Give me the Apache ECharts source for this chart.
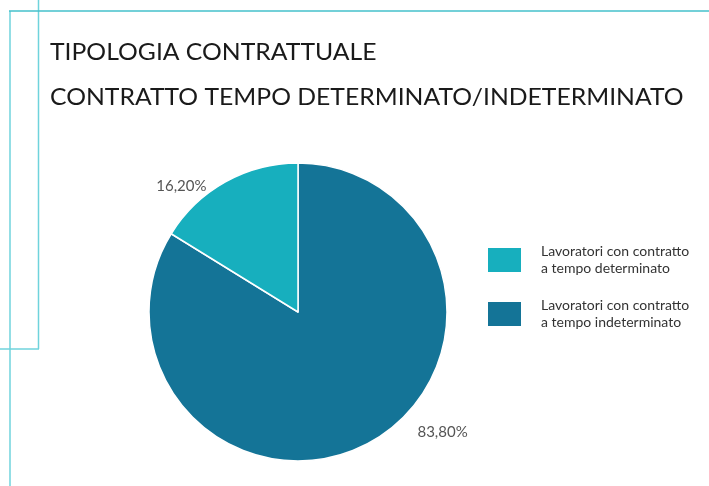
<!DOCTYPE html>
<html>
<head>
<meta charset="utf-8">
<script src="https://cdn.jsdelivr.net/npm/echarts@6/dist/echarts.min.js"></script>
<style>
  html, body { margin: 0; padding: 0; background: #fff; }
  #chart { width: 709px; height: 486px; }
</style>
</head>
<body>
<div id="chart"></div>
<script>
// dati
const categories = [
  'Lavoratori con contratto\na tempo indeterminato',
  'Lavoratori con contratto\na tempo determinato'
]
const values = [83.8, 16.2]
const colors = ['#147497', '#17afbe']
const legendOrder = [categories[1], categories[0]]
const titleLines = ['TIPOLOGIA CONTRATTUALE', 'CONTRATTO TEMPO DETERMINATO/INDETERMINATO']

const fmt = (v) => v.toFixed(2).replace('.', ',') + '%'

const chart = echarts.init(document.getElementById('chart'))

const lineColor = '#6fd3dc'

// spostamento etichette (come nel grafico originale)
const labelShift = [
  { dx: 37, dy: -19 },
  { dx: -9, dy: 13 }
]

// titolo su due righe, un po' allargato per somigliare al font originale
const titleText = titleLines.map((t, i) => ({
  type: 'text',
  x: 50,
  y: 53 + i * 45,
  scaleX: 1.075,
  style: {
    text: t,
    fontFamily: 'Lato',
    fontSize: 23,
    fill: '#1a1a1a',
    verticalAlign: 'middle'
  }
}))

const option = {
  backgroundColor: '#fff',
  legend: {
    orient: 'vertical',
    left: 481,
    top: 238,
    data: legendOrder,
    icon: 'rect',
    itemWidth: 35,
    itemHeight: 26,
    itemGap: 20,
    selectedMode: false,
    textStyle: {
      fontFamily: 'Lato',
      fontSize: 14,
      lineHeight: 17,
      color: '#333',
      padding: [0, 0, 0, 14]
    }
  },
  graphic: [
    { type: 'line', shape: { x1: 38.5, y1: 0, x2: 38.5, y2: 349 }, style: { stroke: lineColor, lineWidth: 1.5 } },
    { type: 'line', shape: { x1: 0, y1: 349, x2: 39, y2: 349 }, style: { stroke: lineColor, lineWidth: 1.5 } },
    { type: 'line', shape: { x1: 10, y1: 11, x2: 10, y2: 486 }, style: { stroke: lineColor, lineWidth: 1.5 } },
    { type: 'line', shape: { x1: 9, y1: 11, x2: 709, y2: 11 }, style: { stroke: '#45c0cb', lineWidth: 1.5 } },
    ...titleText
  ],
  series: [
    {
      type: 'pie',
      center: [298, 312],
      radius: 149,
      startAngle: 90,
      clockwise: true,
      silent: true,
      itemStyle: { borderColor: '#fff', borderWidth: 1.5 },
      label: {
        show: true,
        position: 'outside',
        formatter: (p) => fmt(p.value),
        fontFamily: 'Lato',
        fontSize: 15,
        color: '#555'
      },
      labelLine: { show: false, length: 10, length2: 0 },
      labelLayout: (p) => labelShift[p.dataIndex],
      data: categories.map((name, i) => ({
        name,
        value: values[i],
        itemStyle: { color: colors[i] }
      }))
    }
  ]
}

chart.setOption(option)
</script>
</body>
</html>
